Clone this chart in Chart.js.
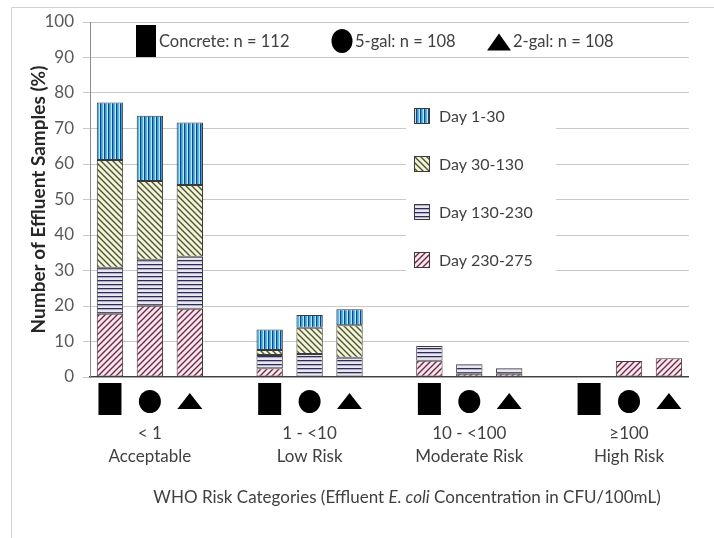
<!DOCTYPE html>
<html>
<head>
<meta charset="utf-8">
<script src="https://cdn.jsdelivr.net/npm/chart.js@4"></script>
<style>
  html, body { margin: 0; padding: 0; background: #ffffff; }
  #wrap { width: 714px; height: 538px; position: relative; }
</style>
</head>
<body>
<div id="wrap"><canvas id="chart" width="714" height="538"></canvas></div>
<script>
// WHO risk categories (two-line axis labels)
const riskGroups = [
  ["< 1", "Acceptable"],
  ["1 - <10", "Low Risk"],
  ["10 - <100", "Moderate Risk"],
  ["\u2265100", "High Risk"]
];
// Tank types within each risk group, with sample counts
const tanks = ["Concrete", "5-gal", "2-gal"];
const tankCounts = [112, 108, 108];

// Share of effluent samples (%) per sampling period.
// Order: for each risk group -> Concrete, 5-gal, 2-gal
const day1to30    = [16.2, 18.4, 17.6,   5.8, 3.6, 4.5,   0.0, 0.0, 0.0,   0.0, 0.0, 0.0];
const day30to130  = [30.3, 22.2, 20.2,   1.4, 7.4, 9.2,   0.0, 0.0, 0.0,   0.0, 0.0, 0.0];
const day130to230 = [13.0, 12.9, 14.7,   3.7, 6.5, 5.4,   4.1, 2.7, 1.6,   0.0, 0.0, 0.0];
const day230to275 = [17.8, 20.1, 19.2,   2.5, 0.0, 0.0,   4.6, 0.9, 0.9,   0.0, 4.5, 5.3];

const periodLabels = ["Day 1-30", "Day 30-130", "Day 130-230", "Day 230-275"];
const yTicks = { min: 0, max: 100, step: 10 };

// ---- hatch fills -------------------------------------------------------
function makePattern(kind) {
  const c = document.createElement("canvas");
  const g = c.getContext("2d");
  if (kind === "vert") {
    c.width = 4; c.height = 4;
    const cols = ["#20407a", "#2f9fe0", "#4cb8f0", "#bfe6fa"];
    cols.forEach((col, i) => { g.fillStyle = col; g.fillRect(i, 0, 1, 4); });
  } else if (kind === "horiz") {
    c.width = 4; c.height = 4;
    g.fillStyle = "#ebe5f2"; g.fillRect(0, 0, 4, 4);
    g.fillStyle = "#2a2f55"; g.fillRect(0, 0, 4, 1.3);
  } else {
    const s = 6;
    c.width = s; c.height = s;
    const back = kind === "back";
    g.fillStyle = back ? "#f3f6d0" : "#fbe6ef";
    g.fillRect(0, 0, s, s);
    g.strokeStyle = back ? "#4d5244" : "#6e2a46";
    g.lineWidth = 1.4;
    g.beginPath();
    if (back) {
      g.moveTo(-1, -1); g.lineTo(s + 1, s + 1);
      g.moveTo(-1, s - 1); g.lineTo(1, s + 1);
      g.moveTo(s - 1, -1); g.lineTo(s + 1, 1);
    } else {
      g.moveTo(-1, s + 1); g.lineTo(s + 1, -1);
      g.moveTo(-1, 1); g.lineTo(1, -1);
      g.moveTo(s - 1, s + 1); g.lineTo(s + 1, s - 1);
    }
    g.stroke();
  }
  return c;
}
const ctx = document.getElementById("chart").getContext("2d");
const fills = {
  p1: ctx.createPattern(makePattern("vert"), "repeat"),
  p2: ctx.createPattern(makePattern("back"), "repeat"),
  p3: ctx.createPattern(makePattern("horiz"), "repeat"),
  p4: ctx.createPattern(makePattern("fwd"), "repeat")
};

// ---- category slots: three tanks per group plus a spacer between groups
const slotLabels = [];
const slotTank = [];
riskGroups.forEach((g, gi) => {
  tanks.forEach((t, ti) => {
    slotLabels.push(ti === 1 ? g : "");
    slotTank.push(ti);
  });
  if (gi < riskGroups.length - 1) { slotLabels.push(""); slotTank.push(-1); }
});
function toSlots(values) {
  const out = [];
  let k = 0;
  slotTank.forEach(t => { out.push(t < 0 ? null : values[k++]); });
  return out;
}

const FONT = "Lato, 'Open Sans', sans-serif";
const borderCol = "#3a3a3a";

const datasets = [
  { label: periodLabels[3], data: toSlots(day230to275), backgroundColor: fills.p4 },
  { label: periodLabels[2], data: toSlots(day130to230), backgroundColor: fills.p3 },
  { label: periodLabels[1], data: toSlots(day30to130),  backgroundColor: fills.p2 },
  { label: periodLabels[0], data: toSlots(day1to30),    backgroundColor: fills.p1 }
].map(d => Object.assign(d, {
  borderColor: borderCol, borderWidth: 1, borderSkipped: false,
  categoryPercentage: 1, barPercentage: 0.66
}));

// ---- drawing helpers -----------------------------------------------------
function drawMarker(g, kind, cx, cy, w, h) {
  g.fillStyle = "#000";
  g.beginPath();
  if (kind === "rect") {
    g.rect(cx - w / 2, cy - h / 2, w, h);
  } else if (kind === "circle") {
    g.ellipse(cx, cy, w / 2, h / 2, 0, 0, Math.PI * 2);
  } else {
    g.moveTo(cx - w / 2, cy + h / 2);
    g.lineTo(cx + w / 2, cy + h / 2);
    g.lineTo(cx, cy - h / 2);
    g.closePath();
  }
  g.fill();
}

const decorations = {
  id: "decorations",
  beforeDraw(chart) {
    const g = chart.ctx;
    g.save();
    g.strokeStyle = "#d0d0d0";
    g.lineWidth = 1;
    g.beginPath();
    g.moveTo(11.5, 538); g.lineTo(11.5, 7.5); g.lineTo(714, 7.5);
    g.stroke();
    g.restore();
  },
  afterDatasetsDraw(chart) {
    const g = chart.ctx;
    const x = chart.scales.x;
    g.save();
    // tank markers under each bar
    slotTank.forEach((t, i) => {
      if (t < 0) return;
      const cx = x.getPixelForValue(i);
      if (t === 0) drawMarker(g, "rect", cx, 399, 23, 32);
      else if (t === 1) drawMarker(g, "circle", cx, 401.5, 22, 23);
      else drawMarker(g, "triangle", cx, 401, 25, 16);
    });

    // tank legend along the top
    g.font = "16.5px " + FONT;
    g.textBaseline = "middle";
    g.textAlign = "left";
    const topY = 41;
    const topItems = [
      { x: 146, tx: 159 },
      { x: 342, tx: 355 },
      { x: 499, tx: 513 }
    ];
    tanks.forEach((t, i) => {
      const it = topItems[i];
      if (i === 0) drawMarker(g, "rect", it.x, topY, 20, 32);
      else if (i === 1) drawMarker(g, "circle", it.x, topY, 21, 24);
      else drawMarker(g, "triangle", it.x, topY + 1, 24, 17);
      g.fillStyle = "#404040";
      g.fillText(t + ": n = " + tankCounts[i], it.tx, topY + 1);
    });

    // sampling-period legend
    g.fillStyle = "#ffffff";
    g.fillRect(406, 100, 150, 176);
    const legFills = [fills.p1, fills.p2, fills.p3, fills.p4];
    periodLabels.forEach((lab, i) => {
      const cy = 116 + i * 48;
      g.fillStyle = legFills[i];
      g.fillRect(414, cy - 8, 16, 16);
      g.strokeStyle = borderCol;
      g.lineWidth = 1;
      g.strokeRect(414.5, cy - 7.5, 15, 15);
      g.fillStyle = "#404040";
      g.font = "16px " + FONT;
      g.fillText(lab, 439, cy + 1);
    });

    // axis title with italic species name
    const parts = [
      { t: "WHO Risk Categories (Effluent ", f: "17px " + FONT },
      { t: "E. coli", f: "italic 17px " + FONT },
      { t: " Concentration in CFU/100mL)", f: "17px " + FONT }
    ];
    let total = 0;
    parts.forEach(p => { g.font = p.f; p.w = g.measureText(p.t).width; total += p.w; });
    let px = 407 - total / 2;
    g.fillStyle = "#404040";
    parts.forEach(p => { g.font = p.f; g.fillText(p.t, px, 498); px += p.w; });
    g.restore();
  }
};

new Chart(ctx, {
  type: "bar",
  data: { labels: slotLabels, datasets },
  plugins: [decorations],
  options: {
    responsive: false,
    animation: false,
    layout: { padding: { left: 0, right: 2, top: 22, bottom: 0 } },
    plugins: { legend: { display: false }, tooltip: { enabled: false } },
    scales: {
      x: {
        stacked: true,
        offset: true,
        afterFit(s) { s.height = 161; },
        grid: { display: false, drawTicks: false },
        border: { display: true, color: "#404040", width: 1.2 },
        ticks: {
          autoSkip: false, maxRotation: 0, padding: 45,
          color: "#404040",
          font: { family: FONT, size: 17, lineHeight: 1.35 }
        }
      },
      y: {
        stacked: true,
        min: yTicks.min, max: yTicks.max,
        afterFit(s) { s.width = 90; },
        grid: { color: "#c8c8c8", tickLength: 7, drawTicks: true },
        border: { display: true, color: "#8a8a8a" },
        ticks: {
          stepSize: yTicks.step, padding: 9, color: "#595959",
          font: { family: FONT, size: 17 }
        },
        title: {
          display: true,
          text: "Number of Effluent Samples (%)",
          color: "#262626",
          font: { family: FONT, size: 19, weight: "bold" },
          padding: { top: 27, bottom: 0 }
        }
      }
    }
  }
});
</script>
</body>
</html>
